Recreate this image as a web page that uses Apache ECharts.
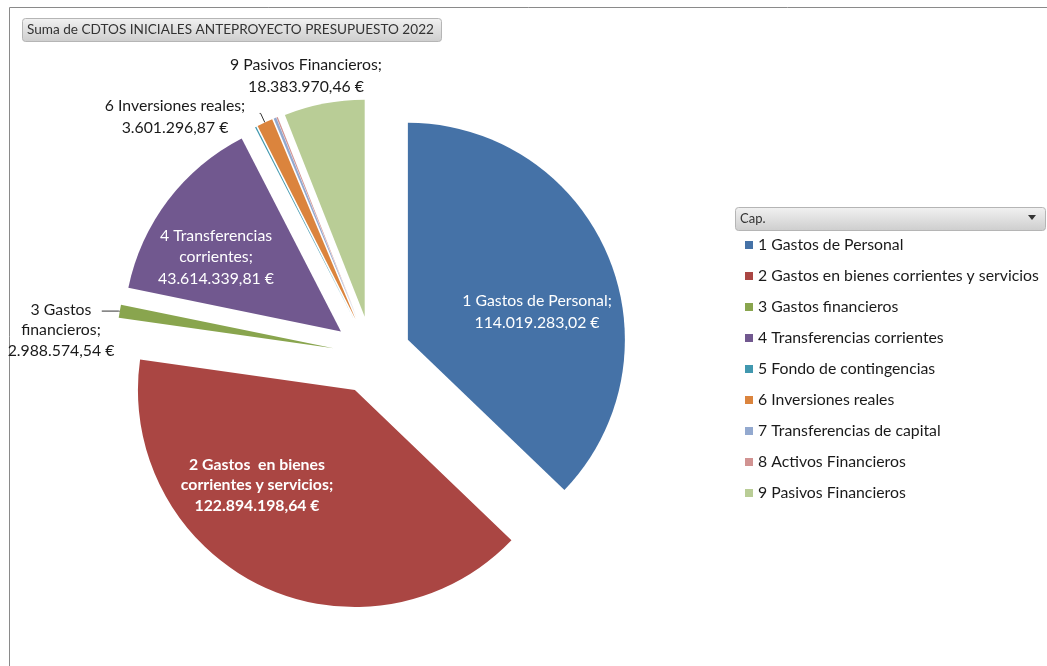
<!DOCTYPE html>
<html style="height: 100%">
<head>
    <meta charset="utf-8">
</head>
<body style="height: 100%; margin: 0">
    <div id="container" style="width: 1047px; height: 666px"></div>
    <script src="https://cdn.jsdelivr.net/npm/echarts@6/dist/echarts.min.js"></script>
    <script type="text/javascript">
        // capitulos del presupuesto
        var capitulos = ['1 Gastos de Personal', '2 Gastos en bienes corrientes y servicios', '3 Gastos financieros',
            '4 Transferencias corrientes', '5 Fondo de contingencias', '6 Inversiones reales',
            '7 Transferencias de capital', '8 Activos Financieros', '9 Pasivos Financieros'];
        // texto de las etiquetas (con saltos de linea)
        var etiquetas = ['1 Gastos de Personal', '2 Gastos  en bienes\ncorrientes y servicios', '3 Gastos\nfinancieros',
            '4 Transferencias\ncorrientes', '', '6 Inversiones reales', '', '', '9 Pasivos Financieros'];
        // creditos iniciales (euros)
        var creditos = [114019283.02, 122894198.64, 2988574.54, 43614339.81, 300000, 3601296.87, 600000, 300000, 18383970.46];
        var colores = ['#4572A7', '#AA4643', '#89A54E', '#71588F', '#4198AF', '#DB843D', '#93A9CF', '#D19392', '#B9CD96'];

        var fuente = 'Lato, "Open Sans", sans-serif';

        function euros(v) {
            var p = v.toFixed(2).split('.');
            return p[0].replace(/\B(?=(\d{3})+(?!\d))/g, '.') + ',' + p[1] + ' €';
        }
        function textoEtiqueta(p) { return etiquetas[p.dataIndex] + ';\n' + euros(p.value); }

        var dentro = [0, 1, 3];   // etiquetas blancas dentro de la tarta
        // centro de cada etiqueta
        var sitioEtiqueta = {
            0: [537, 312], 1: [257, 485], 3: [216, 257],
            2: [61, 330], 5: [175, 117], 8: [306, 76]
        };
        // lineas guia (solo caps. 3 y 6)
        var guias = { 2: [1, 17], 5: [10, 1] };

        // serie con las porciones separadas
        var porciones = creditos.map(function (v, i) {
            var g = guias[i];
            return {
                name: capitulos[i], value: v, selected: true,
                itemStyle: { color: colores[i] },
                label: { show: !!g },
                labelLine: g ? { show: true, length: g[0], length2: g[1] } : { show: false }
            };
        });
        // serie transparente que solo lleva los textos
        var textos = creditos.map(function (v, i) {
            var s = sitioEtiqueta[i];
            var item = { name: capitulos[i], value: v, label: { show: !!s } };
            if (s) {
                var blanco = dentro.indexOf(i) >= 0;
                item.label.color = blanco ? '#fff' : '#1a1a1a';
                if (i == 1) { item.label.fontWeight = 'bold'; item.label.lineHeight = 20.5; }
                if (i == 2) item.label.lineHeight = 20.5;
            }
            return item;
        });

        var dom = document.getElementById("container");
        var myChart = echarts.init(dom);
        var option = {
            animation: false,
            title: {
                text: 'Suma de CDTOS INICIALES ANTEPROYECTO PRESUPUESTO 2022',
                left: 22, top: 18,
                padding: [5, 8, 5, 5],
                borderRadius: 3,
                borderColor: '#b5b5b5',
                borderWidth: 1,
                backgroundColor: new echarts.graphic.LinearGradient(0, 0, 0, 1, [
                    { offset: 0, color: '#f2f2f2' }, { offset: 1, color: '#cdcdcd' }]),
                textStyle: { fontFamily: fuente, fontSize: 13.6, fontWeight: 'normal', color: '#333' }
            },
            legend: {
                orient: 'vertical',
                left: 740, top: 231,
                icon: 'rect',
                itemWidth: 8, itemHeight: 8, itemGap: 13,
                selectedMode: false,
                data: capitulos,
                textStyle: { fontFamily: fuente, fontSize: 15.8, color: '#1a1a1a', lineHeight: 18 }
            },
            graphic: [
                { type: 'line', shape: { x1: 9.5, y1: 7.5, x2: 9.5, y2: 666 }, style: { stroke: '#8a8a8a', lineWidth: 1 } },
                { type: 'line', shape: { x1: 9.5, y1: 7.5, x2: 1047, y2: 7.5 }, style: { stroke: '#8a8a8a', lineWidth: 1 } },
                {
                    type: 'rect', shape: { x: 735.5, y: 207.5, width: 310, height: 23, r: 3 },
                    style: {
                        fill: new echarts.graphic.LinearGradient(0, 0, 0, 1, [
                            { offset: 0, color: '#f2f2f2' }, { offset: 1, color: '#cdcdcd' }]),
                        stroke: '#b5b5b5'
                    }
                },
                { type: 'text', x: 740, y: 219, style: { text: 'Cap.', font: '13px ' + fuente, fill: '#333', verticalAlign: 'middle' } },
                { type: 'polygon', shape: { points: [[1028, 215], [1036, 215], [1032, 220]] }, style: { fill: '#333' } }
            ],
            series: [{
                type: 'pie',
                center: [372, 355],
                radius: 217,
                startAngle: 90,
                selectedMode: 'multiple',
                selectedOffset: 39,
                avoidLabelOverlap: false,
                label: {
                    position: 'outside', color: 'rgba(0,0,0,0)', distanceToLabelLine: 3,
                    fontFamily: fuente, fontSize: 15.8, lineHeight: 21.5, formatter: textoEtiqueta
                },
                labelLine: { lineStyle: { color: '#333', width: 1 } },
                emphasis: { disabled: true },
                data: porciones
            }, {
                type: 'pie',
                center: [372, 355],
                radius: 217,
                startAngle: 90,
                silent: true,
                legendHoverLink: false,
                avoidLabelOverlap: false,
                itemStyle: { color: 'rgba(0,0,0,0)' },
                label: {
                    position: 'outside', align: 'center', overflow: 'none',
                    fontFamily: fuente, fontSize: 15.8, lineHeight: 21.5, formatter: textoEtiqueta
                },
                labelLine: { show: false },
                labelLayout: function (p) {
                    var s = sitioEtiqueta[p.dataIndex];
                    if (!s) return {};
                    return { x: s[0], y: s[1], align: 'center', verticalAlign: 'middle', hideOverlap: false };
                },
                emphasis: { disabled: true },
                data: textos
            }]
        };
        myChart.setOption(option);
    </script>
</body>
</html>
